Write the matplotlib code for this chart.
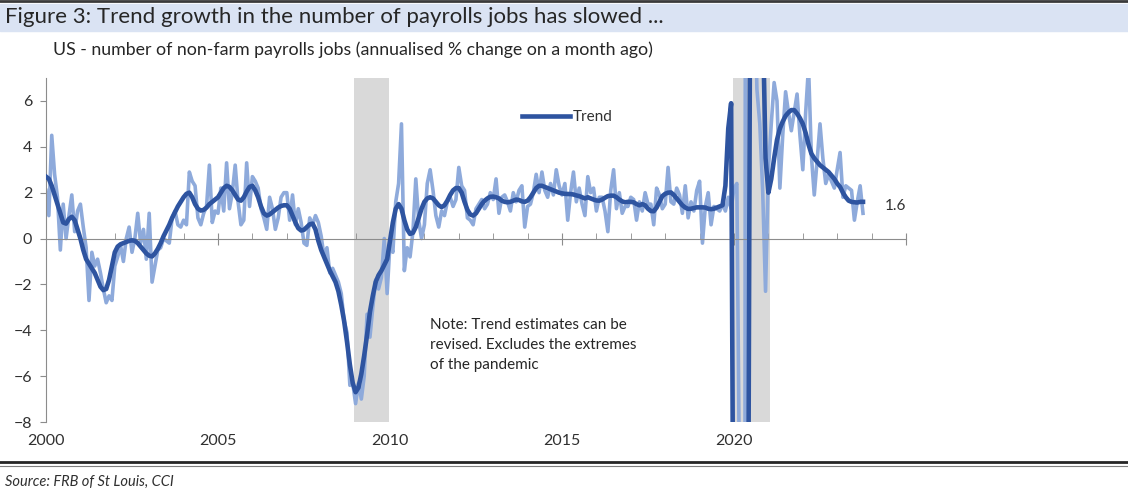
import numpy as np
import pandas as pd
import matplotlib
matplotlib.use("Agg")
import matplotlib.pyplot as plt
from matplotlib.lines import Line2D
from matplotlib.patches import Rectangle

plt.rcParams["font.family"] = ["Lato", "DejaVu Sans"]

# ---------------- data ----------------
start_month = "2000-01"

# US non-farm payrolls, annualised % change on a month ago (one row per year)
payrolls = [
    2.1, 1.0, 4.5, 2.8, 1.8, -0.5, 1.5, 0.0, 1.0, 1.9, 0.3, 1.2,        # 2000
    1.5, 0.5, -0.4, -2.7, -0.6, -1.2, -0.9, -1.5, -2.2, -2.8, -2.5, -2.7,  # 2001
    -1.2, -0.8, -0.3, -1.0, 0.0, 0.5, -0.6, 0.0, 1.1, -0.2, 0.4, -0.9,   # 2002
    1.1, -1.9, -1.2, -0.5, -0.4, 0.0, -0.1, -0.2, 0.9, 1.2, 0.6, 0.5,    # 2003
    0.8, 0.6, 2.9, 2.5, 2.3, 0.9, 0.6, 1.1, 1.4, 3.2, 0.7, 1.2,          # 2004
    1.1, 2.2, 1.2, 3.3, 1.3, 2.0, 3.2, 1.6, 0.6, 0.8, 3.3, 1.4,          # 2005
    2.7, 2.5, 2.2, 1.3, 0.9, 0.4, 1.8, 1.3, 0.4, 0.9, 1.8, 2.0,          # 2006
    2.0, 0.8, 1.9, 0.6, 1.3, 0.7, -0.2, -0.3, 0.9, 0.6, 1.0, 0.7,        # 2007
    0.1, -0.8, -0.4, -1.5, -1.3, -1.6, -1.9, -2.4, -3.6, -4.1, -6.4, -6.3,  # 2008
    -7.2, -6.3, -7.0, -6.0, -3.3, -4.3, -3.0, -1.8, -2.2, -1.7, 0.0, -2.4,  # 2009
    -0.2, -0.6, 1.6, 2.4, 5.0, -1.4, -0.4, -0.8, 0.3, 2.6, 0.8, 0.0,     # 2010
    0.6, 2.4, 3.0, 2.1, 1.0, 0.5, 1.2, 1.0, 1.6, 1.8, 1.4, 1.7,          # 2011
    3.1, 2.3, 2.1, 0.9, 0.8, 0.6, 1.3, 1.5, 1.7, 1.3, 1.5, 2.0,          # 2012
    1.7, 2.6, 1.1, 1.8, 1.9, 1.6, 1.2, 2.0, 1.6, 2.1, 2.3, 0.5,          # 2013
    1.4, 1.5, 2.0, 2.8, 2.0, 2.9, 2.1, 1.8, 2.4, 1.9, 3.0, 2.3,          # 2014
    1.9, 2.4, 0.8, 2.0, 2.9, 1.6, 2.2, 1.5, 1.0, 2.7, 2.0, 2.2,          # 2015
    1.2, 1.8, 1.8, 1.2, 0.3, 2.1, 3.0, 1.3, 2.0, 1.1, 1.4, 1.4,          # 2016
    1.8, 1.7, 0.8, 1.6, 1.2, 2.0, 1.5, 1.5, 0.6, 2.2, 1.9, 1.3,          # 2017
    1.5, 3.1, 1.6, 1.5, 2.2, 1.9, 1.1, 2.3, 0.9, 1.6, 1.2, 2.1,          # 2018
    2.5, -0.2, 1.4, 2.0, 0.6, 1.4, 1.3, 1.2, 1.5, 1.2, 1.8, 1.3,         # 2019
    2.2, 2.4, -12.0, -170.0, 22.0, 38.0, 14.0, 12.0, 6.5, 5.0, 2.1, -2.3,  # 2020
    3.0, 5.0, 6.8, 6.0, 2.2, 4.5, 6.4, 5.5, 4.7, 5.5, 6.3, 4.5,          # 2021
    3.0, 5.5, 7.5, 3.6, 1.9, 3.4, 5.0, 3.5, 2.4, 2.8, 2.5, 2.2,          # 2022
    3.0, 3.75, 1.8, 2.3, 2.2, 2.1, 0.8, 1.6, 2.3, 1.1,                   # 2023 (to Oct)
]

# trend estimate
trend = [
    2.7, 2.6, 2.3, 1.9, 1.5, 1.1, 0.7, 0.65, 0.85, 0.95, 0.8, 0.4,       # 2000
    0.0, -0.5, -0.9, -1.1, -1.3, -1.5, -1.8, -2.1, -2.25, -2.2, -1.8, -1.2,  # 2001
    -0.6, -0.35, -0.25, -0.2, -0.15, -0.1, -0.08, -0.1, -0.2, -0.35, -0.5, -0.65,  # 2002
    -0.75, -0.78, -0.65, -0.45, -0.2, 0.1, 0.35, 0.6, 0.9, 1.15, 1.4, 1.6,  # 2003
    1.8, 1.95, 2.0, 1.8, 1.5, 1.3, 1.22, 1.25, 1.35, 1.5, 1.6, 1.7,      # 2004
    1.8, 2.0, 2.2, 2.3, 2.25, 2.1, 1.9, 1.7, 1.65, 1.8, 2.05, 2.25,      # 2005
    2.3, 2.1, 1.8, 1.4, 1.1, 1.0, 1.05, 1.15, 1.25, 1.35, 1.42, 1.45,    # 2006
    1.45, 1.3, 1.0, 0.7, 0.45, 0.35, 0.38, 0.5, 0.62, 0.65, 0.4, -0.1,   # 2007
    -0.5, -0.8, -1.1, -1.4, -1.65, -1.9, -2.3, -2.9, -3.6, -4.5, -5.5, -6.3,  # 2008
    -6.7, -6.5, -5.9, -5.1, -4.2, -3.2, -2.5, -1.9, -1.6, -1.4, -1.15, -0.9,  # 2009
    -0.1, 0.7, 1.3, 1.5, 1.3, 0.8, 0.4, 0.2, 0.25, 0.5, 0.9, 1.3,        # 2010
    1.6, 1.75, 1.8, 1.75, 1.6, 1.45, 1.37, 1.45, 1.65, 1.9, 2.1, 2.2,    # 2011
    2.2, 2.0, 1.6, 1.25, 1.05, 1.0, 1.1, 1.3, 1.5, 1.65, 1.75, 1.82,     # 2012
    1.83, 1.8, 1.75, 1.65, 1.6, 1.58, 1.6, 1.65, 1.7, 1.68, 1.62, 1.6,   # 2013
    1.65, 1.8, 2.0, 2.2, 2.3, 2.3, 2.25, 2.2, 2.15, 2.1, 2.05, 2.0,      # 2014
    1.97, 1.95, 1.94, 1.94, 1.92, 1.88, 1.85, 1.8, 1.75, 1.8, 1.75, 1.7,  # 2015
    1.66, 1.65, 1.7, 1.78, 1.85, 1.87, 1.87, 1.8, 1.7, 1.62, 1.58, 1.6,  # 2016
    1.6, 1.58, 1.5, 1.45, 1.5, 1.45, 1.3, 1.2, 1.19, 1.35, 1.6, 1.85,    # 2017
    1.95, 2.0, 2.01, 1.9, 1.75, 1.6, 1.45, 1.35, 1.29, 1.3, 1.33, 1.36,  # 2018
    1.36, 1.36, 1.35, 1.3, 1.28, 1.3, 1.35, 1.4, 1.45, 2.3, 4.8, 5.9,    # 2019
    -20.0, -35.0, -40.0, -35.0, -15.0, -12.0, 25.0, 30.0, 30.0, 20.0, 10.0, 3.5,  # 2020
    2.0, 2.6, 3.5, 4.3, 4.8, 5.1, 5.35, 5.5, 5.6, 5.6, 5.45, 5.25,       # 2021
    5.0, 4.6, 4.1, 3.7, 3.5, 3.35, 3.2, 3.1, 3.0, 2.9, 2.75, 2.6,        # 2022
    2.4, 2.25, 2.0, 1.8, 1.65, 1.6, 1.58, 1.57, 1.6, 1.6,               # 2023 (to Oct)
]

recessions = [(2008.95, 2009.97), (2019.98, 2021.05)]
year_labels = [2000, 2005, 2010, 2015, 2020]
y_ticks = [-8, -6, -4, -2, 0, 2, 4, 6]

title = "Figure 3: Trend growth in the number of payrolls jobs has slowed ..."
subtitle = "US - number of non-farm payrolls jobs (annualised % change on a month ago)"
note = "Note: Trend estimates can be\nrevised. Excludes the extremes\nof the pandemic"
source = "Source: FRB of St Louis, CCI"

# ---------------- figure ----------------
W, H = 1128, 496
fig = plt.figure(figsize=(W / 100, H / 100), dpi=100)

dates = pd.date_range(start_month, periods=len(payrolls), freq="MS")
t = dates.year + (dates.month - 1) / 12.0

ax = fig.add_axes([46 / W, (H - 422) / H, 860 / W, 344 / H])
ax.set_xlim(2000, 2025)
ax.set_ylim(-8, 7)

light = "#8eaadb"
dark = "#2e54a0"
grey_txt = "#303030"

for a, b in recessions:
    ax.axvspan(a, b, color="#d9d9d9", lw=0, zorder=0)

ax.plot(t, payrolls, color=light, lw=2.6, zorder=2, solid_joinstyle="round")
ax.plot(t, trend, color=dark, lw=3.3, zorder=3, solid_joinstyle="round")

# axes styling
for s in ["top", "right"]:
    ax.spines[s].set_visible(False)
ax.spines["left"].set_color("#8c8c8c")
ax.spines["left"].set_bounds(-8, 7)
ax.spines["bottom"].set_position(("data", 0))
ax.spines["bottom"].set_color("#8c8c8c")

ax.set_yticks(y_ticks)
ax.tick_params(axis="y", direction="out", length=4, color="#8c8c8c",
               labelsize=11.5, labelcolor=grey_txt, pad=6)

ax.set_xticks(range(2005, 2026, 5))
ax.set_xticks(range(2000, 2026), minor=True)
ax.tick_params(axis="x", which="major", direction="inout", length=8,
               color="#8c8c8c", labelbottom=False)
ax.tick_params(axis="x", which="minor", direction="in", length=4,
               color="#8c8c8c")

for yr in year_labels:
    ax.text(yr, -0.055, str(yr), transform=ax.get_xaxis_transform(),
            ha="center", va="center", fontsize=11.5, color=grey_txt)

# legend
handle = Line2D([], [], color=dark, lw=3.3)
ax.legend([handle], ["Trend"], loc="center left", frameon=False,
          bbox_to_anchor=(0.545, 0.886), handlelength=3.1, handletextpad=0.2,
          fontsize=11, labelcolor=grey_txt, borderpad=0)

# end label
ax.annotate(f"{trend[-1]:.1f}", xy=(t[-1], trend[-1]), xytext=(16, -3),
            textcoords="offset points", ha="left", va="center",
            fontsize=11, color=grey_txt)

ax.text(2011.15, -3.45, note, ha="left", va="top", fontsize=11,
        color="#262626", linespacing=1.55)

# header / footer
fig.patches.append(Rectangle((0, 1 - 31 / H), 1, 27 / H, transform=fig.transFigure,
                             color="#dae3f3", zorder=0))
fig.add_artist(Line2D([0, 1], [1 - 1 / H, 1 - 1 / H], transform=fig.transFigure,
                      color="#3a3a3a", lw=2))
fig.text(5 / W, 1 - 17 / H, title, ha="left", va="center", fontsize=16,
         color="#262626")
fig.text(53 / W, 1 - 50 / H, subtitle, ha="left", va="center", fontsize=12.8,
         color="#262626")

fig.add_artist(Line2D([0, 1], [1 - 462 / H, 1 - 462 / H], transform=fig.transFigure,
                      color="#262626", lw=2))
fig.add_artist(Line2D([0, 1], [1 - 466 / H, 1 - 466 / H], transform=fig.transFigure,
                      color="#7f7f7f", lw=0.8))
fig.text(5 / W, 1 - 482 / H, source, ha="left", va="center", fontsize=10.5,
         style="italic", color=grey_txt)

fig.savefig("out.png", dpi=100)
